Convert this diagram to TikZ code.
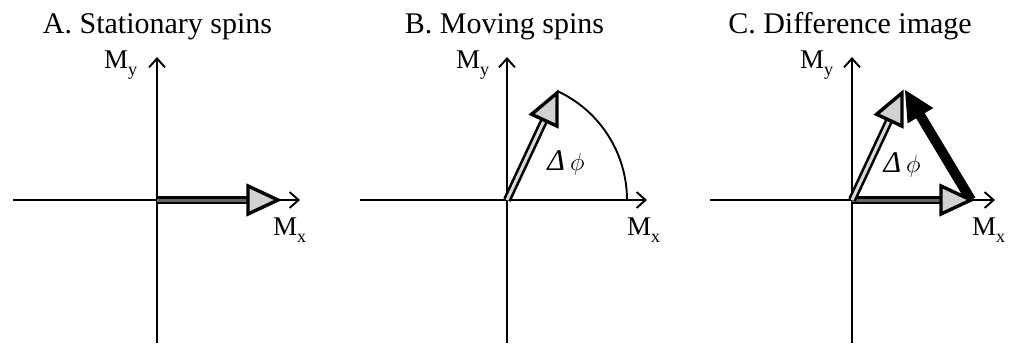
\documentclass[tikz,border=0pt]{standalone}
\usepackage{fontspec}
\setmainfont{Liberation Serif}
\usetikzlibrary{calc,arrows.meta}
\definecolor{headgray}{gray}{0.82}
\newcommand\spinvec[4]{% #1 start, #2 tip, #3 shaft inner colour, #4 name prefix
  \coordinate (#4hb) at ($(#2)!30pt!(#1)$);
  \coordinate (#4se) at ($(#4hb)!-2pt!(#1)$);
  \coordinate (#4c1) at ($(#4hb)!14pt!90:(#2)$);
  \coordinate (#4c2) at ($(#4hb)!14pt!-90:(#2)$);
  \draw[shaft, double=#3] (#1) -- (#4se);
  \filldraw[head] (#2) -- (#4c1) -- (#4c2) -- cycle;
}
\begin{document}
\begin{tikzpicture}[x=1pt,y=-1pt,
  axis/.style={line width=1.9pt, -{Straight Barb[length=9pt,width=16pt,line width=1.9pt]}},
  ttl/.style={font=\fontsize{30}{34}\selectfont, anchor=base, inner sep=0pt},
  lbl/.style={font=\fontsize{27}{30}\selectfont, anchor=base west, inner sep=0pt},
  dphi/.style={font=\fontsize{30}{32}\selectfont, inner sep=0pt},
  shaft/.style={line width=2.6pt, double distance=3pt},
  head/.style={fill=headgray, draw=black, line width=3.4pt, line join=miter},
  diffarrow/.style={line width=10pt, black}]
\useasboundingbox (0,0) rectangle (1011,343);

% ---------- Panel A ----------
\node[ttl] (tA) at (157.5,33) {A. Stationary spins};
\coordinate (oA) at (157,200);
\coordinate (xAl) at (13,200);
\coordinate (xAr) at (300,200);
\coordinate (yAb) at (157,343);
\coordinate (yAt) at (157,57);
\draw[axis] (xAl) -- (xAr);
\draw[axis] (yAb) -- (yAt);
\node[lbl] (myA) at (104,68) {M\raisebox{-7pt}{\fontsize{18}{18}\selectfont y}};
\node[lbl] (mxA) at (273,235) {M\raisebox{-7pt}{\fontsize{18}{18}\selectfont x}};
\coordinate (vA) at (278,200);
\spinvec{oA}{vA}{black!60}{A}

% ---------- Panel B ----------
\node[ttl] (tB) at (504.5,33) {B. Moving spins};
\coordinate (oB) at (507,200);
\coordinate (xBl) at (360,200);
\coordinate (xBr) at (647,200);
\coordinate (yBb) at (507,343);
\coordinate (yBt) at (507,57);
\draw[axis] (xBl) -- (xBr);
\draw[axis] (yBb) -- (yBt);
\node[lbl] (myB) at (456,68) {M\raisebox{-7pt}{\fontsize{18}{18}\selectfont y}};
\node[lbl] (mxB) at (627,235) {M\raisebox{-7pt}{\fontsize{18}{18}\selectfont x}};
\coordinate (aB) at (627,200);
\draw[line width=1.9pt] (aB) arc[start angle=0, end angle=65, radius=120pt];
\coordinate (vB) at (557,93);
\spinvec{oB}{vB}{black!15}{B}
\node[dphi] (dB) at (566,163) {{\itshape Δ}\,$\phi$};

% ---------- Panel C ----------
\node[ttl] (tC) at (850,33) {C. Difference image};
\coordinate (oC) at (852,200);
\coordinate (xCl) at (710,200);
\coordinate (xCr) at (995,200);
\coordinate (yCb) at (852,343);
\coordinate (yCt) at (852,57);
\draw[axis] (xCl) -- (xCr);
\draw[axis] (yCb) -- (yCt);
\node[lbl] (myC) at (800,68) {M\raisebox{-7pt}{\fontsize{18}{18}\selectfont y}};
\node[lbl] (mxC) at (972,235) {M\raisebox{-7pt}{\fontsize{18}{18}\selectfont x}};
\coordinate (vC1) at (902,93);
\coordinate (vC2) at (971,200);
% black difference arrow
\coordinate (dtip) at (905,90);
\coordinate (dhb) at ($(dtip)!30pt!(vC2)$);
\coordinate (dc1) at ($(dhb)!15pt!90:(dtip)$);
\coordinate (dc2) at ($(dhb)!15pt!-90:(dtip)$);
\draw[diffarrow] (vC2) -- ($(dhb)!-2pt!(vC2)$);
\fill[black] (dtip) -- (dc1) -- (dc2) -- cycle;
\spinvec{oC}{vC2}{black!60}{C2}
\spinvec{oC}{vC1}{black!15}{C1}
\node[dphi] (dC) at (902,165) {{\itshape Δ}\,$\phi$};
\end{tikzpicture}
\end{document}
